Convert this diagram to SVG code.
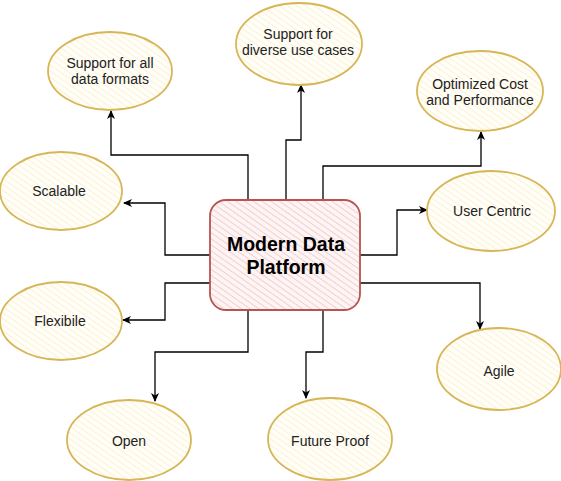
<svg xmlns="http://www.w3.org/2000/svg" width="561" height="481" viewBox="0 0 561 481">
<defs>
<pattern id="hy" patternUnits="userSpaceOnUse" width="5" height="5" patternTransform="rotate(-55)">
<rect width="5" height="5" fill="#fffef9"/>
<line x1="0" y1="0" x2="0" y2="5" stroke="#fcefc6" stroke-width="1.5"/>
</pattern>
<pattern id="hr" patternUnits="userSpaceOnUse" width="5" height="5" patternTransform="rotate(-55)">
<rect width="5" height="5" fill="#fdf5f5"/>
<line x1="0" y1="0" x2="0" y2="5" stroke="#f0bdbb" stroke-width="1.4"/>
</pattern>
<marker id="ar" markerWidth="10" markerHeight="10" refX="8" refY="5" orient="auto" markerUnits="userSpaceOnUse">
<path d="M0,1 L9,5 L0,9 L2.5,5 Z" fill="#000"/>
</marker>
</defs>
<style>
.e{fill:url(#hy);stroke:#d6b656;stroke-width:1.8}
.t{font-family:"Liberation Sans",Arial,sans-serif;font-size:14px;fill:#222;text-anchor:middle}
.c{fill:none;stroke:#000;stroke-width:1.3;marker-end:url(#ar)}
</style>
<rect width="561" height="481" fill="#fff"/>
<g id="connectors">
<path class="c" d="M248,200 V155 H111 V111"/>
<path class="c" d="M286,200 V140 H301 V85"/>
<path class="c" d="M323,200 V166 H481 V132"/>
<path class="c" d="M210,255 H165 V203 H124"/>
<path class="c" d="M360,255 H397 V210 H427"/>
<path class="c" d="M210,283 H165 V320 H123"/>
<path class="c" d="M360,283 H480 V329"/>
<path class="c" d="M248,310 V352 H155 V401"/>
<path class="c" d="M323,310 V352 H306 V398"/>
</g>
<g id="center">
<rect x="210" y="200" width="150" height="110" rx="16" fill="url(#hr)" stroke="#b85450" stroke-width="1.8"/>
<text x="286" y="251" font-family="Liberation Sans,Arial,sans-serif" font-size="19.5" font-weight="bold" text-anchor="middle" fill="#000">Modern Data</text>
<text x="286" y="274" font-family="Liberation Sans,Arial,sans-serif" font-size="19.5" font-weight="bold" text-anchor="middle" fill="#000">Platform</text>
</g>
<g id="n-formats"><ellipse class="e" cx="110" cy="71" rx="62" ry="39"/><text class="t" x="110" y="68">Support for all</text><text class="t" x="110" y="84">data formats</text></g>
<g id="n-diverse"><ellipse class="e" cx="299" cy="44" rx="63" ry="41"/><text class="t" x="298" y="39">Support for</text><text class="t" x="298" y="55">diverse use cases</text></g>
<g id="n-cost"><ellipse class="e" cx="480" cy="91" rx="63" ry="40"/><text class="t" x="480" y="89">Optimized Cost</text><text class="t" x="480" y="105">and Performance</text></g>
<g id="n-scalable"><ellipse class="e" cx="61" cy="191" rx="61" ry="39"/><text class="t" x="59" y="196">Scalable</text></g>
<g id="n-user"><ellipse class="e" cx="491" cy="211" rx="64" ry="40"/><text class="t" x="492" y="216">User Centric</text></g>
<g id="n-flex"><ellipse class="e" cx="61" cy="321" rx="61" ry="39"/><text class="t" x="60" y="326">Flexibile</text></g>
<g id="n-agile"><ellipse class="e" cx="499" cy="369" rx="62" ry="41"/><text class="t" x="499" y="376">Agile</text></g>
<g id="n-open"><ellipse class="e" cx="129" cy="440" rx="62" ry="40"/><text class="t" x="129" y="446">Open</text></g>
<g id="n-future"><ellipse class="e" cx="330" cy="439" rx="62" ry="41"/><text class="t" x="330" y="446">Future Proof</text></g>
</svg>
